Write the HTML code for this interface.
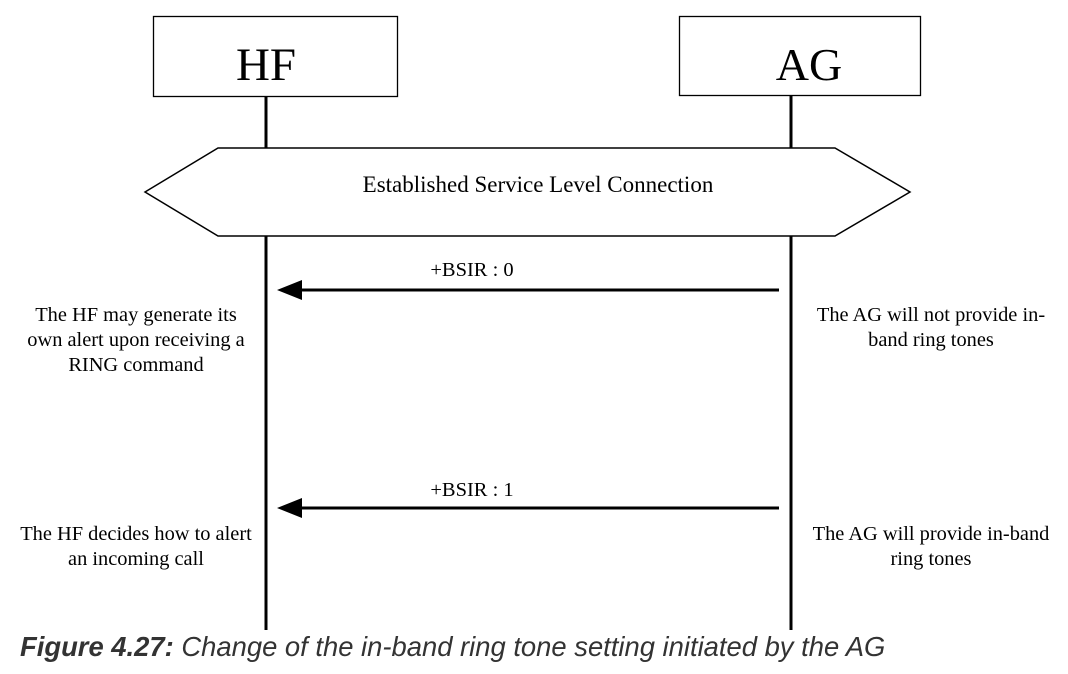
<!DOCTYPE html>
<html><head><style>
html,body{margin:0;padding:0;background:#fff;}
body{width:1068px;height:669px;overflow:hidden;position:relative;}
svg text{font-family:"Liberation Serif",serif;fill:#000;}
</style></head><body>
<svg width="1068" height="669" viewBox="0 0 1068 669" xmlns="http://www.w3.org/2000/svg">
<rect x="153.5" y="16.5" width="244" height="80" fill="#fff" stroke="#000" stroke-width="1.3"/>
<rect x="679.5" y="16.5" width="241" height="79" fill="#fff" stroke="#000" stroke-width="1.3"/>
<text x="266" y="80" font-size="47" text-anchor="middle">HF</text>
<text x="809" y="80" font-size="46" text-anchor="middle">AG</text>
<line x1="266" y1="97" x2="266" y2="630" stroke="#000" stroke-width="3"/>
<line x1="791" y1="96" x2="791" y2="630" stroke="#000" stroke-width="3"/>
<polygon points="145,192 218,148 835,148 910,192 835,236 218,236" fill="#fff" stroke="#000" stroke-width="1.5"/>
<text x="538" y="192" font-size="23" text-anchor="middle">Established Service Level Connection</text>
<line x1="300" y1="290" x2="779" y2="290" stroke="#000" stroke-width="3"/>
<polygon points="277,290 302,280 302,300" fill="#000"/>
<text x="472" y="276" font-size="20.5" text-anchor="middle">+BSIR : 0</text>
<line x1="300" y1="508" x2="779" y2="508" stroke="#000" stroke-width="3"/>
<polygon points="277,508 302,498 302,518" fill="#000"/>
<text x="472" y="496" font-size="20.5" text-anchor="middle">+BSIR : 1</text>
<g font-size="20.4" text-anchor="middle">
<text x="136" y="321">The HF may generate its</text>
<text x="136" y="346">own alert upon receiving a</text>
<text x="136" y="371">RING command</text>
<text x="931" y="321">The AG will not provide in-</text>
<text x="931" y="346">band ring tones</text>
<text x="136" y="540">The HF decides how to alert</text>
<text x="136" y="565">an incoming call</text>
<text x="931" y="540">The AG will provide in-band</text>
<text x="931" y="565">ring tones</text>
</g>
<text x="20" y="656" font-size="27.4" font-style="italic" style="font-family:'Liberation Sans',sans-serif;fill:#333"><tspan font-weight="bold">Figure 4.27:</tspan>  Change of the in-band ring tone setting initiated by the AG</text>
</svg>
</body></html>
